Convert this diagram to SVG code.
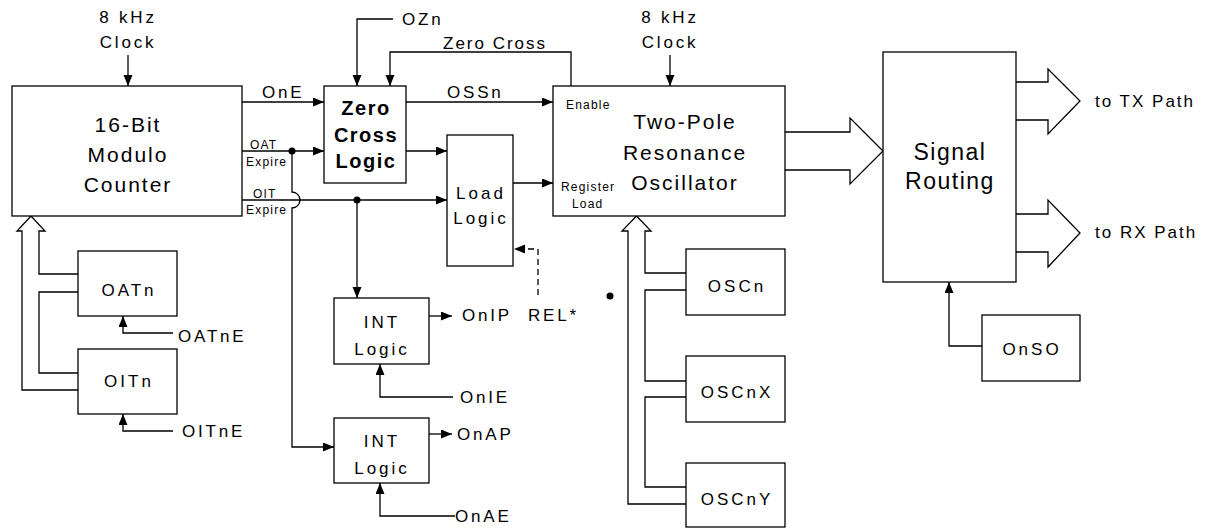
<svg xmlns="http://www.w3.org/2000/svg" width="1205" height="528" viewBox="0 0 1205 528">
<style>
text{font-family:"Liberation Sans",Arial,sans-serif;fill:#000}
.t{font-size:17px;letter-spacing:2.8px}
.t2{font-size:17px;letter-spacing:2px}
.m{font-size:17px;letter-spacing:3px;text-anchor:middle}
.big{font-size:21px;letter-spacing:2px;text-anchor:middle}
.sr{font-size:23px;letter-spacing:1.5px;text-anchor:middle}
.s{font-size:12px;letter-spacing:1.2px}
.b{font-size:20px;font-weight:bold;letter-spacing:1.5px;text-anchor:middle}
.box{fill:#fff;stroke:#000;stroke-width:1.3}
.ln{fill:none;stroke:#000;stroke-width:1.3}
.bus{fill:#fff;stroke:#000;stroke-width:1.3}
.a{marker-end:url(#ah)}
</style>
<defs>
<marker id="ah" markerUnits="userSpaceOnUse" markerWidth="12" markerHeight="10" refX="11" refY="4.5" orient="auto">
<path d="M0,0 L11,4.5 L0,9 z" fill="#000"/>
</marker>
</defs>
<rect width="1205" height="528" fill="#fff"/>

<g id="connectors">
<path class="ln a" d="M128,55 L128,86"/>
<path class="ln a" d="M670,55 L670,86"/>
<path class="ln a" d="M242,102 L324,102"/>
<path class="ln a" d="M242,151 L324,151"/>
<path class="ln a" d="M292,151 L292,192 A8,8 0 0 1 292,208 L292,447 L334,447"/>
<path class="ln a" d="M242,200 L447,200"/>
<path class="ln a" d="M357,200 L357,298"/>
<path class="ln a" d="M393,19 L357,19 L357,86"/>
<path class="ln a" d="M571,86 L571,52 L390,52 L390,86"/>
<path class="ln a" d="M406,102 L553,102"/>
<path class="ln a" d="M406,151 L447,151"/>
<path class="ln a" d="M513,183 L553,183"/>
<path class="ln a" d="M538,295 L538,249 L514,249" stroke-dasharray="6,4"/>
<path class="ln a" d="M429,316 L452,316"/>
<path class="ln a" d="M453,397 L380,397 L380,364"/>
<path class="ln a" d="M429,434 L452,434"/>
<path class="ln a" d="M455,516 L380,516 L380,483"/>
<path class="ln a" d="M173,333 L123,333 L123,316"/>
<path class="ln a" d="M173,431 L123,431 L123,414"/>
<path class="ln a" d="M982,346 L949,346 L949,282"/>
<circle cx="292" cy="151" r="3.5" fill="#000"/>
<circle cx="357" cy="200" r="3.5" fill="#000"/>
<circle cx="610" cy="296" r="3.5" fill="#000"/>
<path class="bus" d="M78,390 L22,390 L22,231 L17,231 L31,216 L45,231 L39,231 L39,274 L78,274"/>
<path class="ln" d="M78,292 L39,292 L39,373 L78,373"/>
<path class="bus" d="M686,504 L628,504 L628,231 L622,231 L636.5,216 L651,231 L645,231 L645,273 L686,273"/>
<path class="ln" d="M686,290 L645,290 L645,381 L686,381"/>
<path class="ln" d="M686,397 L645,397 L645,487 L686,487"/>
<path class="bus" d="M785,132 L850,132 L850,118 L883,151 L850,184 L850,170 L785,170"/>
<path class="bus" d="M1016,82 L1048,82 L1048,69 L1080,101 L1048,134 L1048,120 L1016,120"/>
<path class="bus" d="M1016,214 L1048,214 L1048,200 L1080,233 L1048,267 L1048,252 L1016,252"/>
</g>

<g id="labels">
<text class="t" x="128" y="23" text-anchor="middle">8 kHz</text>
<text class="t" x="128" y="48" text-anchor="middle">Clock</text>
<text class="t" x="670" y="23" text-anchor="middle">8 kHz</text>
<text class="t" x="670" y="48" text-anchor="middle">Clock</text>
<text class="t" x="262" y="98">OnE</text>
<text class="s" x="250" y="149">OAT</text>
<text class="s" x="246" y="166">Expire</text>
<text class="s" x="253" y="198">OIT</text>
<text class="s" x="246" y="214">Expire</text>
<text class="t" x="402" y="25">OZn</text>
<text class="t2" x="443" y="49">Zero Cross</text>
<text class="t" x="447" y="98">OSSn</text>
<text class="t" x="528" y="321">REL*</text>
<text class="t" x="462" y="321">OnIP</text>
<text class="t" x="460" y="403">OnIE</text>
<text class="t" x="457" y="440">OnAP</text>
<text class="t" x="455" y="522">OnAE</text>
<text class="t" x="178" y="342">OATnE</text>
<text class="t" x="182" y="437">OITnE</text>
<text class="t2" x="1095" y="107">to TX Path</text>
<text class="t2" x="1095" y="238">to RX Path</text>
</g>

<g id="counter">
<rect class="box" x="12" y="86" width="230" height="130"/>
<text class="big" x="128" y="132">16-Bit</text>
<text class="big" x="128" y="162">Modulo</text>
<text class="big" x="128" y="192">Counter</text>
</g>
<g id="zerocross">
<rect class="box" x="324" y="86" width="82" height="97"/>
<text class="b" x="366" y="115">Zero</text>
<text class="b" x="366" y="142">Cross</text>
<text class="b" x="366" y="168">Logic</text>
</g>
<g id="loadlogic">
<rect class="box" x="447" y="135" width="66" height="131"/>
<text class="m" x="481" y="199">Load</text>
<text class="m" x="481" y="224">Logic</text>
</g>
<g id="oscillator">
<rect class="box" x="553" y="86" width="232" height="130"/>
<text class="s" x="566" y="109">Enable</text>
<text class="s" x="561" y="191">Register</text>
<text class="s" x="572" y="208">Load</text>
<text class="big" x="685" y="129">Two-Pole</text>
<text class="big" x="685" y="160">Resonance</text>
<text class="big" x="685" y="190">Oscillator</text>
</g>
<g id="routing">
<rect class="box" x="883" y="52" width="133" height="230"/>
<text class="sr" x="950" y="160">Signal</text>
<text class="sr" x="950" y="189">Routing</text>
</g>
<g id="onso">
<rect class="box" x="982" y="315" width="98" height="66"/>
<text class="m" x="1032" y="355">OnSO</text>
</g>
<g id="int1">
<rect class="box" x="334" y="298" width="95" height="66"/>
<text class="m" x="382" y="328">INT</text>
<text class="m" x="382" y="355">Logic</text>
</g>
<g id="int2">
<rect class="box" x="334" y="418" width="95" height="65"/>
<text class="m" x="382" y="447">INT</text>
<text class="m" x="382" y="474">Logic</text>
</g>
<g id="oatn">
<rect class="box" x="78" y="251" width="99" height="65"/>
<text class="m" x="129" y="296">OATn</text>
</g>
<g id="oitn">
<rect class="box" x="78" y="349" width="99" height="65"/>
<text class="m" x="129" y="387">OITn</text>
</g>
<g id="oscn">
<rect class="box" x="686" y="249" width="99" height="66"/>
<text class="m" x="737" y="292">OSCn</text>
</g>
<g id="oscnx">
<rect class="box" x="686" y="356" width="99" height="66"/>
<text class="m" x="737" y="398">OSCnX</text>
</g>
<g id="oscny">
<rect class="box" x="686" y="463" width="99" height="64"/>
<text class="m" x="737" y="505">OSCnY</text>
</g>
</svg>
